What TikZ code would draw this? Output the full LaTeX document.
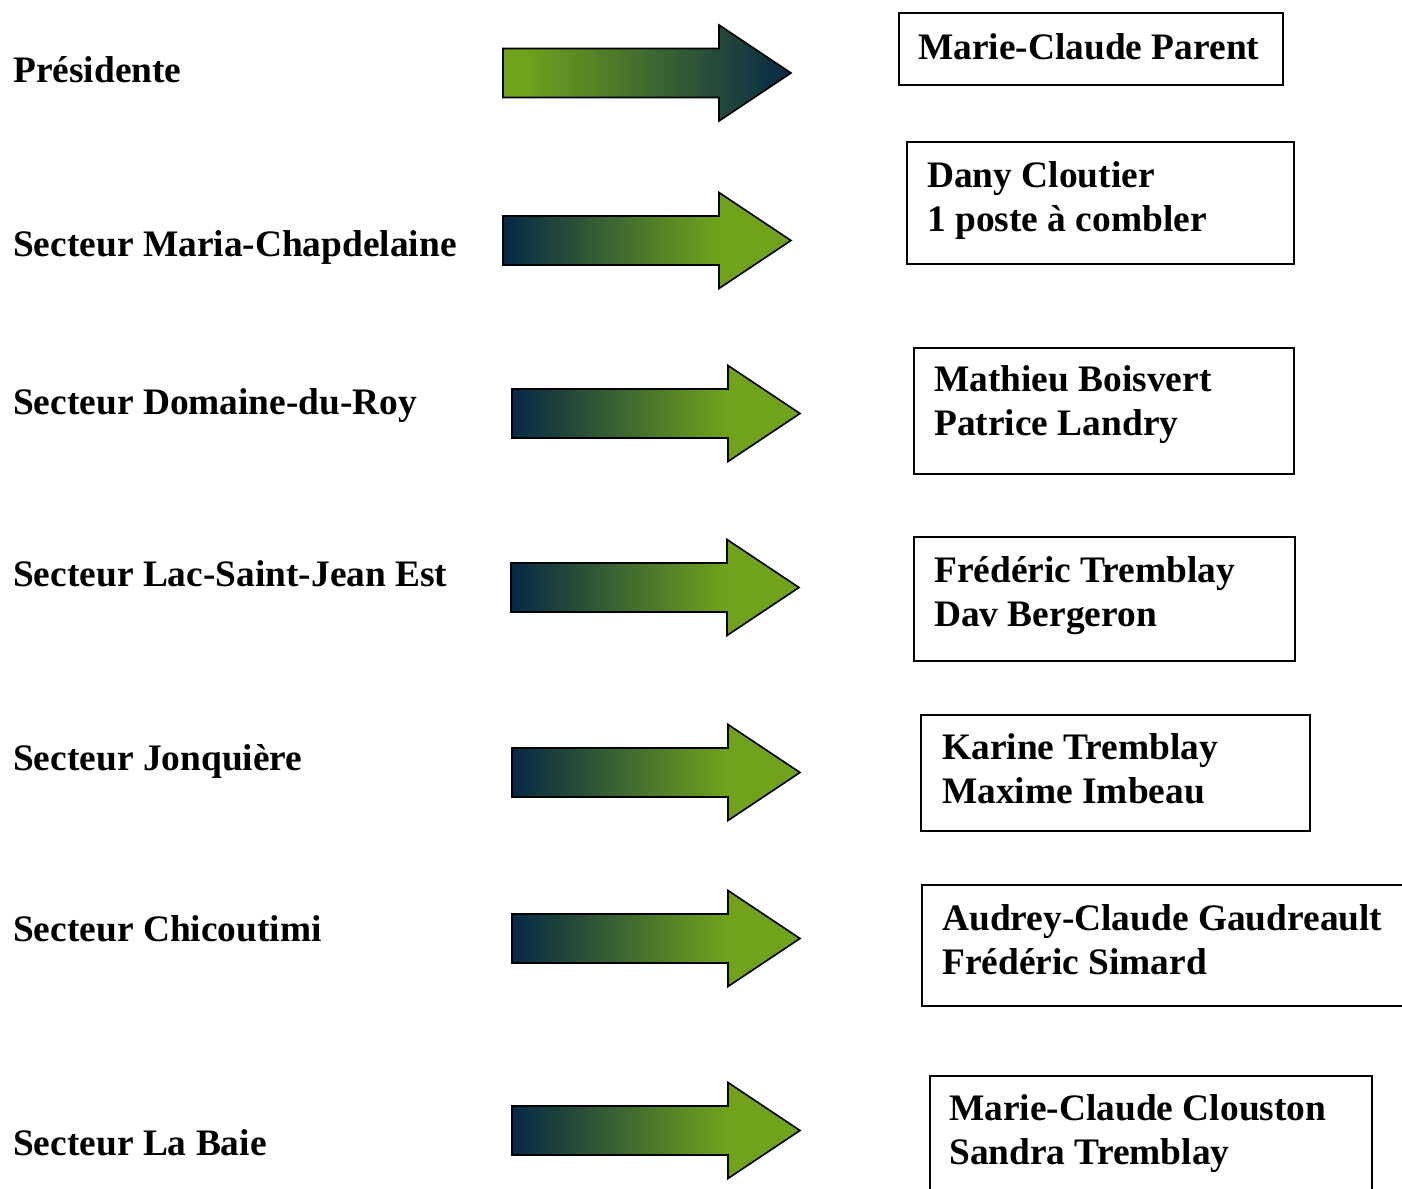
\documentclass[tikz,border=0pt]{standalone}
\usepackage{fontspec}
\setmainfont{Liberation Serif}
\definecolor{navyc}{RGB}{6,40,70}
\definecolor{greenc}{RGB}{112,162,28}
\pgfdeclarehorizontalshading{navygreen}{100bp}{color(0bp)=(navyc); color(25bp)=(navyc); color(62bp)=(greenc); color(100bp)=(greenc)}
\pgfdeclarehorizontalshading{greennavy}{100bp}{color(0bp)=(greenc); color(29bp)=(greenc); color(75bp)=(navyc); color(100bp)=(navyc)}
\tikzset{
  lbl/.style={anchor=base west, inner sep=0pt, font=\bfseries\fontsize{37.4}{44}\selectfont},
  namebox/.style={draw=black, line width=1.8pt, anchor=north west, inner sep=0pt},
  nametext/.style={anchor=base west, inner sep=0pt, text width=460pt, align=left,
    font=\bfseries\fontsize{37.4}{44}\selectfont,
    execute at begin node={\spaceskip=0pt\xspaceskip=0pt\relax}},
  arrowline/.style={draw=black, line width=1.6pt, line join=miter},
  pics/blockarrow/.style={code={\path[arrowline,#1] (0,-24.5) -- (216,-24.5) -- (216,-48) -- (288,0) -- (216,48) -- (216,24.5) -- (0,24.5) -- cycle;}}
}
\begin{document}
\begin{tikzpicture}[x=1pt,y=-1pt]
\useasboundingbox (0,0) rectangle (1402,1188);
\clip (0,0) rectangle (1402,1188);
\fill[white] (0,0) rectangle (1402,1188);
% left labels
\node[lbl] (l1) at (13,83) {Présidente};
\node[lbl] (l2) at (13,256) {Secteur Maria-Chapdelaine};
\node[lbl] (l3) at (13,414) {Secteur Domaine-du-Roy};
\node[lbl] (l4) at (13,586) {Secteur Lac-Saint-Jean Est};
\node[lbl] (l5) at (13,770) {Secteur Jonquière};
\node[lbl] (l6) at (13,941) {Secteur Chicoutimi};
\node[lbl] (l7) at (13,1155) {Secteur La Baie};
% arrows
\pic at (503,73) {blockarrow={shading=greennavy}};
\pic at (503,240.5) {blockarrow={shading=navygreen}};
\pic at (512,413.5) {blockarrow={shading=navygreen}};
\pic at (511,587.5) {blockarrow={shading=navygreen}};
\pic at (512,772.5) {blockarrow={shading=navygreen}};
\pic at (512,938.5) {blockarrow={shading=navygreen}};
\pic at (512,1130.5) {blockarrow={shading=navygreen}};
% boxes
\node[namebox, minimum width=384pt, minimum height=72pt] (b1) at (898,12) {};
\node[nametext] (t1) at (918,60) {Marie-Claude Parent};
\node[namebox, minimum width=387pt, minimum height=122pt] (b2) at (906,141) {};
\node[nametext] (t2) at (927,187) {Dany Cloutier\\1 poste à combler};
\node[namebox, minimum width=380pt, minimum height=126pt] (b3) at (913,347) {};
\node[nametext] (t3) at (934,391) {Mathieu Boisvert\\Patrice Landry};
\node[namebox, minimum width=381pt, minimum height=124pt] (b4) at (913,536) {};
\node[nametext] (t4) at (934,582) {Frédéric Tremblay\\Dav Bergeron};
\node[namebox, minimum width=389pt, minimum height=116pt] (b5) at (920,714) {};
\node[nametext] (t5) at (942,759) {Karine Tremblay\\Maxime Imbeau};
\node[namebox, minimum width=500pt, minimum height=121pt] (b6) at (921,884) {};
\node[nametext] (t6) at (942,930) {Audrey-Claude Gaudreault\\Frédéric Simard};
\node[namebox, minimum width=442pt, minimum height=130pt] (b7) at (929,1075) {};
\node[nametext] (t7) at (949,1120) {Marie-Claude Clouston\\Sandra Tremblay};
\end{tikzpicture}
\end{document}
